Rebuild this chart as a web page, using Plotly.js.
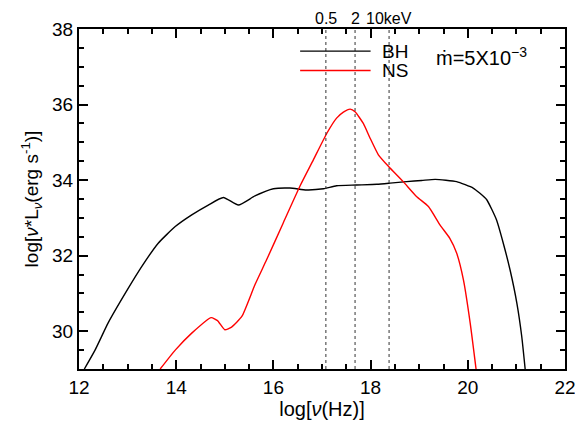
<!DOCTYPE html>
<html>
<head>
<meta charset="utf-8">
<script src="https://cdn.plot.ly/plotly-3.0.1.min.js"></script>
<style>html,body{margin:0;padding:0;background:#fff;}#chart{width:575px;height:432px;}</style>
</head>
<body>
<div id="chart"></div>
<script>
// BH spectrum: log(nu) and log(nu*L_nu)
var bhLogNu = [12.11, 12.33, 12.60, 12.95, 13.29, 13.63, 13.98, 14.32, 14.66, 14.97, 15.28, 15.62, 16.0, 16.34, 16.68, 17.03, 17.30, 17.71, 18.13, 18.40, 18.74, 19.05, 19.33, 19.77, 20.11, 20.25, 20.39, 20.59, 20.73, 20.87, 21.01, 21.11, 21.18];
var bhLogL  = [29.0, 29.5, 30.22, 31.0, 31.71, 32.33, 32.77, 33.08, 33.34, 33.54, 33.34, 33.58, 33.77, 33.79, 33.74, 33.77, 33.85, 33.87, 33.89, 33.92, 33.96, 33.99, 34.02, 33.96, 33.79, 33.65, 33.48, 32.95, 32.33, 31.62, 30.74, 29.86, 29.0];
// NS spectrum
var nsLogNu = [13.67, 13.98, 14.32, 14.72, 14.85, 15.0, 15.14, 15.35, 15.62, 15.86, 16.20, 16.55, 16.82, 17.10, 17.30, 17.44, 17.58, 17.68, 17.85, 17.99, 18.16, 18.37, 18.67, 18.95, 19.19, 19.43, 19.63, 19.77, 19.91, 20.05, 20.17];
var nsLogL  = [29.0, 29.5, 29.95, 30.36, 30.28, 30.04, 30.11, 30.39, 31.23, 31.89, 32.86, 33.85, 34.53, 35.24, 35.64, 35.80, 35.88, 35.81, 35.5, 35.11, 34.67, 34.36, 33.96, 33.56, 33.30, 32.81, 32.46, 32.07, 31.36, 30.21, 29.0];
// X-ray band markers (log Hz) and labels
var bandLogNu = [17.08, 17.68, 18.38];
var bandLabels = ["0.5", "2", "10keV"];
var seriesNames = ["BH", "NS"];
var seriesColors = ["#000000", "#ff0000"];
// axis tick values
var xMajorTicks = [12, 14, 16, 18, 20, 22];
var yMajorTicks = [30, 32, 34, 36, 38];

var FONT = "Liberation Sans, Arial, sans-serif";
var X_RANGE = [12, 22], Y_RANGE = [29, 38];

var traces = [
  {x: bhLogNu, y: bhLogL, mode: "lines", line: {color: seriesColors[0], width: 1.4, shape: "spline", smoothing: 0.5}, name: seriesNames[0], showlegend: false},
  {x: nsLogNu, y: nsLogL, mode: "lines", line: {color: seriesColors[1], width: 1.4, shape: "spline", smoothing: 0.5}, name: seriesNames[1], showlegend: false}
];

var shapes = bandLogNu.map(function (v) {
  return {type: "line", xref: "x", yref: "paper", x0: v, x1: v, y0: 0, y1: 1,
          line: {color: "#333", width: 1, dash: "dot"}};
});
// legend lines
shapes.push({type: "line", xref: "x", yref: "paper", x0: 16.55, x1: 18.0, y0: 0.935, y1: 0.935, line: {color: seriesColors[0], width: 1.4}});
shapes.push({type: "line", xref: "x", yref: "paper", x0: 16.55, x1: 18.0, y0: 0.878, y1: 0.878, line: {color: seriesColors[1], width: 1.4}});

var annotations = bandLogNu.map(function (v, i) {
  return {x: v, y: 1, xref: "x", yref: "paper", text: bandLabels[i], showarrow: false,
          yanchor: "bottom", yshift: 0, font: {family: FONT, size: 16, color: "#000"}};
});
annotations.push({x: 18.2, y: 0.935, xref: "x", yref: "paper", text: seriesNames[0], showarrow: false, xanchor: "left", yanchor: "middle", font: {family: FONT, size: 19, color: "#000"}});
annotations.push({x: 18.2, y: 0.878, xref: "x", yref: "paper", text: seriesNames[1], showarrow: false, xanchor: "left", yanchor: "middle", font: {family: FONT, size: 19, color: "#000"}});
annotations.push({x: 19.3, y: 0.92, xref: "x", yref: "paper", text: "ṁ=5X10<sup>−3</sup>", showarrow: false, xanchor: "left", yanchor: "middle", font: {family: FONT, size: 20, color: "#000"}});

var axisCommon = {
  showgrid: false, zeroline: false,
  showline: true, linecolor: "#000", linewidth: 2, mirror: "allticks",
  ticks: "inside", ticklen: 9, tickwidth: 1.5, tickcolor: "#000",
  minor: {ticks: "inside", ticklen: 5, tickwidth: 1.5, tickcolor: "#000", dtick: 0.5},
  tickfont: {family: FONT, size: 19},
  ticklabeloverflow: "allow"
};

var layout = {
  width: 575, height: 432,
  margin: {l: 79, r: 10, t: 29, b: 63},
  showlegend: false,
  font: {family: FONT, color: "#000"},
  xaxis: Object.assign({}, axisCommon, {
    range: X_RANGE, dtick: 2, tick0: 12,
    title: {text: "log[<i>ν</i>(Hz)]", font: {family: FONT, size: 20}, standoff: 4}
  }),
  yaxis: Object.assign({}, axisCommon, {
    range: Y_RANGE, dtick: 2, tick0: 30,
    title: {text: "log[<i>ν</i>*L<sub><i>ν</i></sub>(erg s<sup>-1</sup>)]", font: {family: FONT, size: 19}, standoff: 8}
  }),
  shapes: shapes,
  annotations: annotations
};

Plotly.newPlot("chart", traces, layout, {displayModeBar: false});
</script>
</body>
</html>
